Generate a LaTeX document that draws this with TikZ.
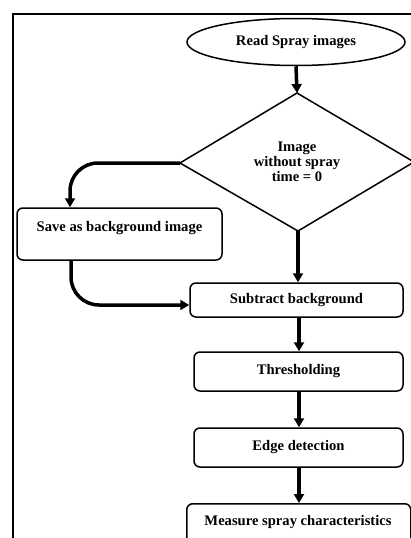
\documentclass[tikz,border=0pt]{standalone}
\usepackage{fontspec}
\setmainfont{Liberation Serif}
\usetikzlibrary{shapes.geometric,arrows.meta}
\begin{document}
\begin{tikzpicture}[x=1pt,y=-1pt,
  every node/.style={font=\fontsize{14.6}{17}\selectfont\bfseries, inner sep=0pt},
  procbox/.style={draw, line width=1.5pt, rounded corners=6pt, align=center},
  flow/.style={line width=3.5pt, -{Triangle[length=9pt,width=10pt]}},
  lbl/.style={align=center}]
\useasboundingbox (0,0) rectangle (410,538);
\draw[line width=2pt] (13,560) -- (13,14) -- (430,14);
% start ellipse
\node[draw, ellipse, line width=1.5pt, minimum width=218pt, minimum height=47pt] (read) at (296,42) {Read Spray images};
% diamond
\coordinate (dc) at (297,162);
\draw[line width=1.5pt] (297,93) coordinate (dtop) -- (414,162) coordinate (dright) -- (298,231) coordinate (dbot) -- (180,163) coordinate (dleft) -- cycle;
\node[lbl] (dtext) at (297,162) {Image\\[-2pt]without spray\\[-2pt]time = 0};
% boxes
\node[procbox, minimum width=205pt, minimum height=52pt, text depth=0pt] (save) at (119.5,234) {};
\node (savet) at (119.5,228) {Save as background image};
\node[procbox, minimum width=213pt, minimum height=34pt] (sub) at (296.5,300) {Subtract background};
\node[procbox, minimum width=209pt, minimum height=39pt] (thr) at (298.5,371.5) {Thresholding};
\node[procbox, minimum width=209pt, minimum height=39pt] (edge) at (298.5,447.5) {Edge detection};
\node[procbox, minimum width=224pt, minimum height=60pt, anchor=north west] (meas) at (186,503) {};
\node (meast) at (298,522) {Measure spray characteristics};
% connectors
\draw[flow] (read.south) -- (dtop);
\draw[flow, rounded corners=28pt] (dleft) -| (save.north -| 70,0);
\draw[flow] (dbot) -- (sub.north -| dbot);
\coordinate (subin) at (sub.west |- 0,305);
\draw[flow, rounded corners=28pt] (save.south -| 71,0) |- (subin);
\draw[flow] (sub.south -| 299,0) -- (thr.north -| 299,0);
\draw[flow] (thr.south -| 299,0) -- (edge.north -| 299,0);
\draw[flow] (edge.south -| 299,0) -- (meas.north -| 299,0);
\end{tikzpicture}
\end{document}
